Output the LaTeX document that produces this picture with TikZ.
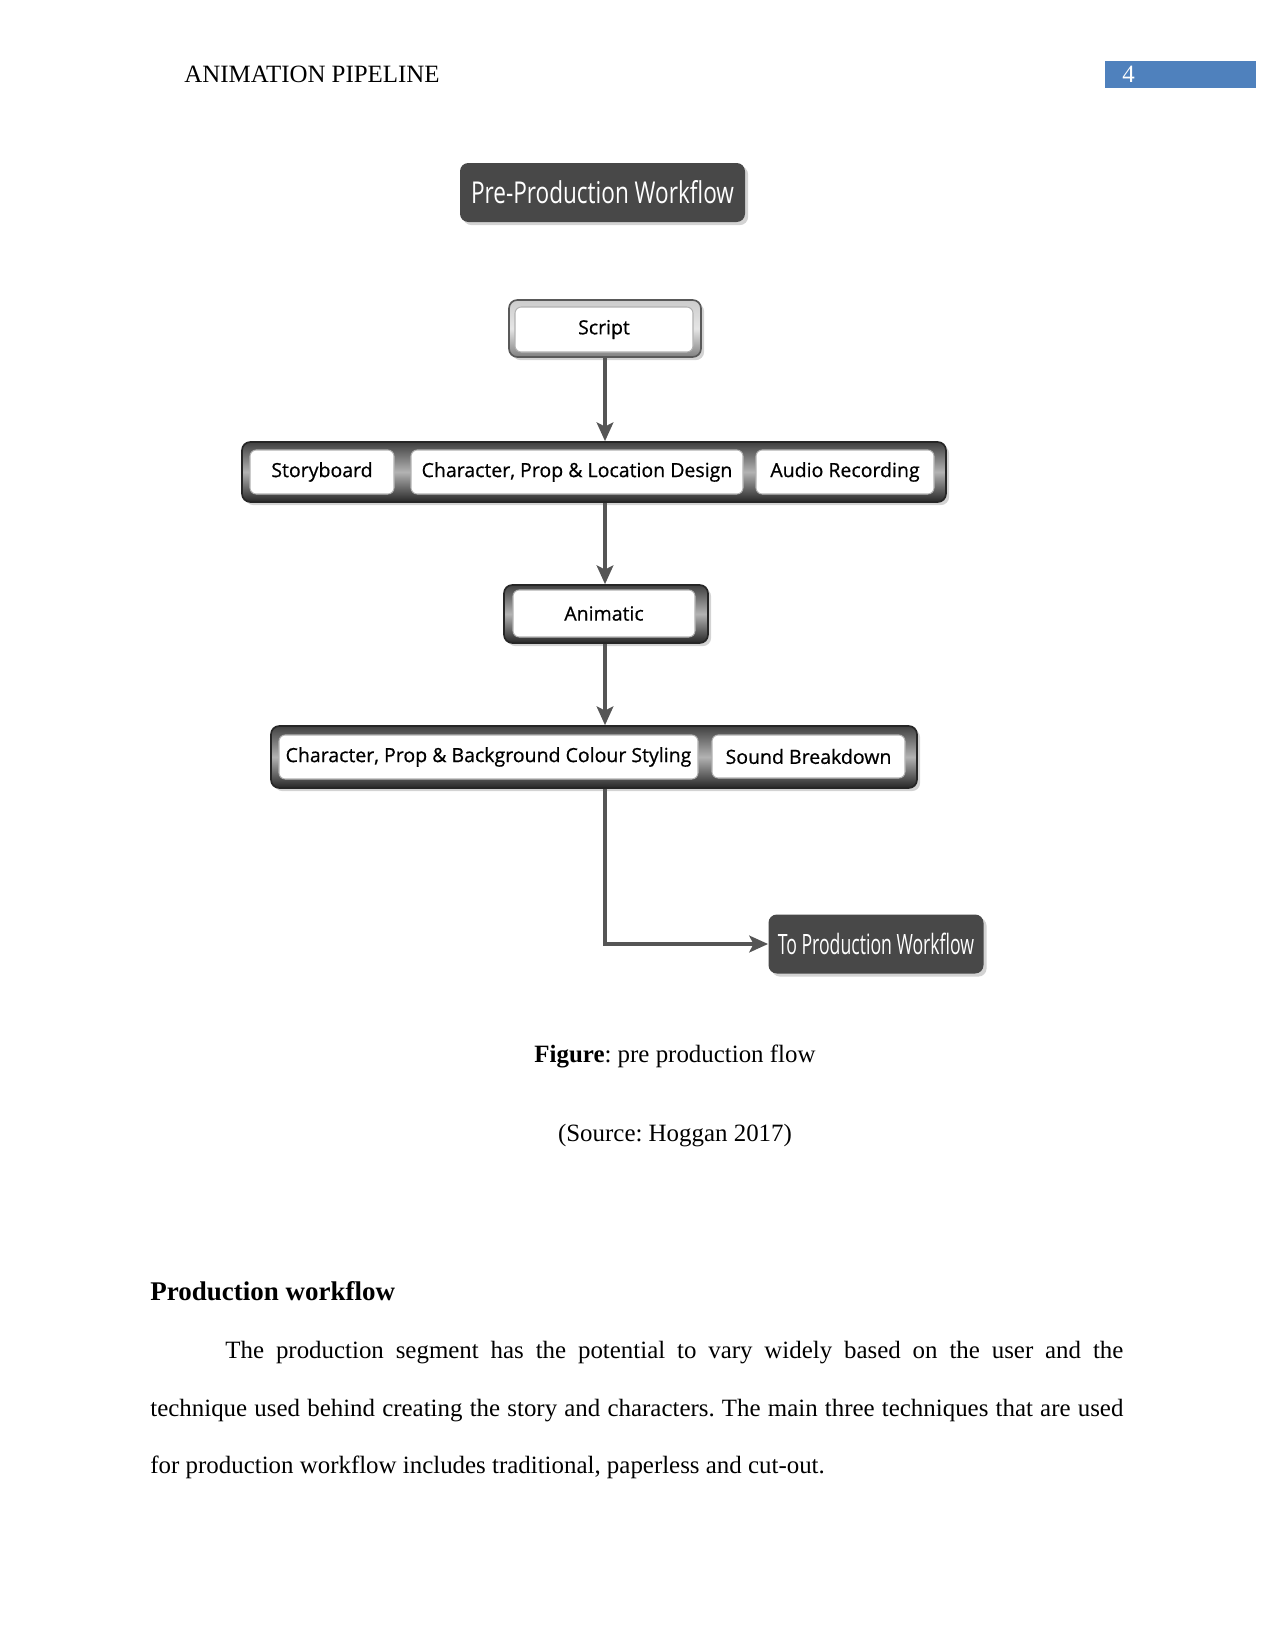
\documentclass[tikz,border=0pt]{standalone}
\usepackage{graphicx}
\usepackage{fontspec}
\setmainfont{Liberation Serif}
\newfontfamily\boxfont[FakeBold=0.6]{Open Sans}
\newfontfamily\darkfont{Open Sans}
\usetikzlibrary{arrows.meta,shadows,calc}
\definecolor{hdrblue}{RGB}{79,129,189}
\definecolor{darkfill}{RGB}{72,72,72}
\definecolor{arrowgray}{RGB}{85,85,85}
\frenchspacing
\newcommand{\lbl}[1]{{\boxfont\fontsize{9.4}{11}\selectfont #1}}
\newcommand{\dlbl}[1]{{\darkfont\fontsize{14.5}{17}\selectfont\scalebox{0.75}[1]{#1}}}
\newcommand{\tlbl}[1]{{\darkfont\fontsize{13.5}{16}\selectfont\scalebox{0.63}[1]{#1}}}
\begin{document}
\begin{tikzpicture}[x=0.48bp,y=-0.48bp,
  sz/.style 2 args={minimum width=#1*0.48bp, minimum height=#2*0.48bp, inner sep=0pt},
  doc/.style={font=\fontsize{12}{14}\selectfont, inner sep=0pt},
  shad/.style={drop shadow={opacity=0.35, shadow xshift=1.5bp, shadow yshift=-1.5bp}},
  darkbox/.style={fill=darkfill, rounded corners=4bp, text=white!92, shad},
  whitebox/.style={fill=white, draw=black!30, line width=0.5bp, rounded corners=3bp},
  frame/.style={rounded corners=4bp, draw=black!85, line width=0.8bp,
    top color=black!75, bottom color=black!85, middle color=black!30, shad},
  lightframe/.style={rounded corners=4bp, draw=black!65, line width=0.8bp,
    top color=black!20, bottom color=black!50, middle color=black!10, shad},
  arr/.style={draw=arrowgray, line width=1.7bp, -{Stealth[length=9bp,width=8bp,inset=2bp]}}
]
\useasboundingbox (0,0) rectangle (1275,1651);

% page header
\node[doc, anchor=base west] (hdr) at (184,82) {ANIMATION PIPELINE};
\node[fill=hdrblue, sz={151}{27}, anchor=north west] (pgbox) at (1105,61) {};
\node[doc, anchor=base west, text=white] (pgnum) at (1122,82) {4};

% title
\node[darkbox, sz={285}{59}] (pre) at (602.5,192.5) {\dlbl{Pre-Production Workflow}};

% script
\node[lightframe, sz={192}{57}] (script) at (605,328.5) {};
\node[whitebox, sz={178}{45}] (scriptin) at (604,329.5) {\lbl{Script}};

% row 1
\node[frame, sz={704}{60}] (row1) at (594,472) {};
\node[whitebox, sz={144}{44}] (story) at (322,472) {\lbl{Storyboard}};
\node[whitebox, sz={332}{44}] (cpld) at (577,472) {\lbl{Character, Prop \& Location Design}};
\node[whitebox, sz={178}{44}] (audio) at (845,472) {\lbl{Audio Recording}};

% animatic
\node[frame, sz={204}{58}] (anim) at (606,614) {};
\node[whitebox, sz={182}{47}] (animin) at (604,613.5) {\lbl{Animatic}};

% row 2
\node[frame, sz={646}{62}] (row2) at (594,757) {};
\node[whitebox, sz={419}{44}] (cpbcs) at (488.5,757) {\lbl{Character, Prop \& Background Colour Styling}};
\node[whitebox, sz={193}{43}] (sound) at (808.5,756.5) {\lbl{Sound Breakdown}};

% to production
\node[darkbox, sz={215}{59}] (toprod) at (876,944) {\tlbl{To Production Workflow}};

% connectors
\draw[arr] (script.south) -- (script.south |- row1.north);
\draw[arr] (script.south |- row1.south) -- (script.south |- anim.north);
\draw[arr] (script.south |- anim.south) -- (script.south |- row2.north);
\draw[arr] (script.south |- row2.south) |- (toprod.west);

% caption
\node[doc, anchor=base] (cap) at (675,1062) {\textbf{Figure}: pre production flow};
\node[doc, anchor=base] (src) at (675,1141) {(Source: Hoggan 2017)};

% body text
\node[doc, anchor=base west, font=\fontsize{13}{15}\selectfont] (head) at (150,1300) {\textbf{Production workflow}};
\node[doc, anchor=base west] (l1) at (225,1358) {\makebox[431bp][s]{The production segment has the potential to vary widely based on the user and the}};
\node[doc, anchor=base west] (l2) at (150,1416) {\makebox[467bp][s]{technique used behind creating the story and characters. The main three techniques that are used}};
\node[doc, anchor=base west] (l3) at (150,1473) {for production workflow includes traditional, paperless and cut-out.};
\end{tikzpicture}
\end{document}
